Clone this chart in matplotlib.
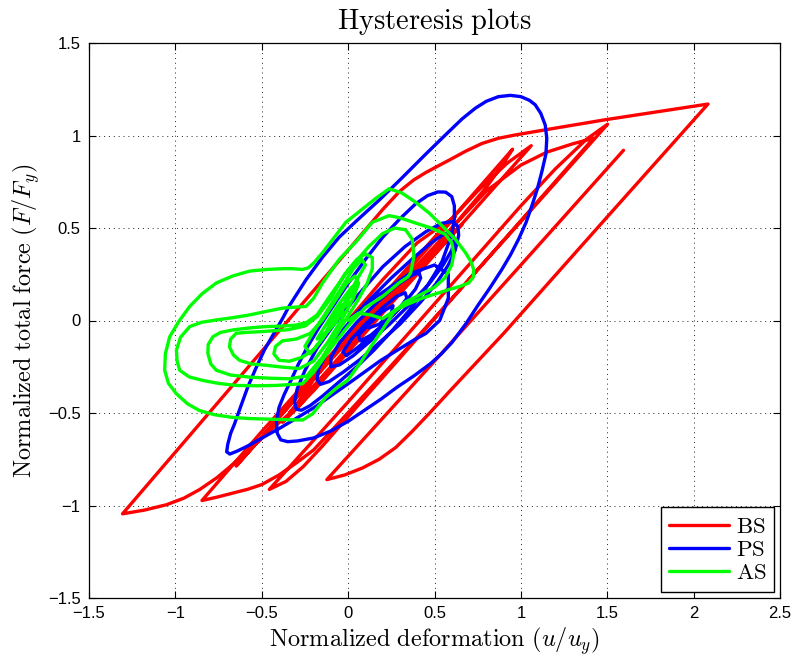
import matplotlib
matplotlib.use("Agg")
import matplotlib.pyplot as plt

plt.rcParams['mathtext.fontset'] = 'cm'
plt.rcParams['font.family'] = ['Liberation Sans', 'DejaVu Sans']

# ---------------- data, (u/uy, F/Fy) points ----------------
bs_xy = [
    (0.0, 0.0), (0.2, 0.22), (0.4, 0.42), (0.55, 0.52), (0.62, 0.56),
    (0.45, 0.38), (0.2, 0.12), (-0.05, -0.14), (-0.2, -0.32), (-0.28, -0.43), (-0.34, -0.5),
    (-0.1, -0.25), (0.2, 0.07), (0.45, 0.33), (0.6, 0.47), (0.66, 0.52),
    (0.4, 0.26), (0.1, -0.05), (-0.15, -0.32), (-0.28, -0.46), (-0.38, -0.55),
    (-0.1, -0.26), (0.3, 0.15), (0.6, 0.5), (0.8, 0.72), (0.9, 0.85), (0.952, 0.926),
    (0.6, 0.55), (0.2, 0.12), (-0.2, -0.31), (-0.5, -0.63), (-0.648, -0.787),
    (-0.3, -0.42), (0.3, 0.2), (0.8, 0.7), (1.0, 0.84), (1.15, 0.91), (1.3, 0.955), (1.42, 0.985),
    (1.0, 0.54), (0.5, 0.01), (0.0, -0.52), (-0.15, -0.68), (-0.26, -0.79), (-0.36, -0.87), (-0.456, -0.913),
    (0.0, -0.44), (0.5, 0.09), (1.0, 0.62), (1.2, 0.82), (1.38, 0.98), (1.502, 1.061),
    (1.0, 0.535), (0.4, -0.09), (-0.1, -0.6), (-0.2, -0.7), (-0.3, -0.77), (-0.4, -0.835), (-0.5, -0.887),
    (-0.58, -0.912), (-0.668, -0.933), (-0.76, -0.955), (-0.846, -0.973),
    (-0.5, -0.6), (0.0, -0.08), (0.5, 0.45), (0.75, 0.7), (0.92, 0.85), (1.06, 0.945),
    (0.6, 0.46), (0.1, -0.065), (-0.2, -0.38), (-0.28, -0.455), (-0.36, -0.52), (-0.44, -0.585),
    (-0.514, -0.65), (-0.59, -0.715), (-0.668, -0.778), (-0.76, -0.85), (-0.86, -0.914), (-0.95, -0.96),
    (-1.052, -0.996), (-1.18, -1.025), (-1.306, -1.045),
    (-0.744, -0.433), (0.0, 0.38), (0.2, 0.6), (0.3, 0.70), (0.38, 0.76), (0.45, 0.80), (0.52, 0.835),
    (0.583, 0.866), (0.68, 0.915), (0.775, 0.957), (0.87, 0.985), (0.968, 1.003), (1.2, 1.04),
    (1.487, 1.085), (2.083, 1.17),
    (1.5, 0.56), (0.9, -0.07), (0.75, -0.22), (0.6, -0.37), (0.467, -0.505), (0.37, -0.6), (0.275, -0.687),
    (0.18, -0.75), (0.083, -0.797), (-0.02, -0.835), (-0.123, -0.86),
    (0.5, -0.22), (1.0, 0.3), (1.594, 0.92)]

ps_xy = [
    (0.0, 0.0), (0.15, 0.12), (0.35, 0.25), (0.5, 0.3), (0.58, 0.25), (0.58, 0.12), (0.53, 0.0), (0.45, -0.07),
    (0.38, -0.106), (0.19, -0.215), (0.0, -0.342), (-0.196, -0.47), (-0.388, -0.578), (-0.581, -0.678),
    (-0.64, -0.705), (-0.685, -0.722), (-0.703, -0.71),
    (-0.697, -0.67), (-0.68, -0.61), (-0.658, -0.56), (-0.62, -0.46), (-0.581, -0.36), (-0.535, -0.26),
    (-0.485, -0.16), (-0.43, -0.07), (-0.38, 0.01), (-0.34, 0.08), (-0.244, 0.22), (-0.15, 0.34),
    (-0.052, 0.45), (0.05, 0.54), (0.179, 0.65), (0.3, 0.76), (0.45, 0.9), (0.583, 1.021), (0.66, 1.09),
    (0.737, 1.148), (0.8, 1.185), (0.87, 1.21), (0.939, 1.217),
    (1.0, 1.21), (1.05, 1.19), (1.083, 1.166), (1.115, 1.12), (1.141, 1.057), (1.15, 0.985), (1.145, 0.9),
    (1.121, 0.803), (1.095, 0.71), (1.064, 0.621), (1.03, 0.53), (0.987, 0.44), (0.94, 0.355), (0.89, 0.276),
    (0.82, 0.175), (0.75, 0.08), (0.68, -0.02), (0.6, -0.12), (0.54, -0.18), (0.477, -0.233), (0.38, -0.3),
    (0.284, -0.36), (0.19, -0.425), (0.092, -0.487), (0.0, -0.545), (-0.1, -0.597), (-0.2, -0.635),
    (-0.292, -0.651), (-0.35, -0.655), (-0.39, -0.645),
    (-0.41, -0.61), (-0.415, -0.55), (-0.40, -0.47), (-0.37, -0.4), (-0.331, -0.324), (-0.29, -0.24),
    (-0.235, -0.142), (-0.17, -0.04), (-0.1, 0.06), (0.0, 0.2), (0.1, 0.33), (0.2, 0.45), (0.3, 0.55),
    (0.39, 0.63), (0.46, 0.675), (0.52, 0.695), (0.564, 0.694),
    (0.6, 0.67), (0.615, 0.62), (0.615, 0.55), (0.6, 0.47), (0.575, 0.4), (0.544, 0.32), (0.5, 0.25),
    (0.44, 0.16), (0.35, 0.05), (0.25, -0.06), (0.15, -0.16), (0.05, -0.25), (-0.05, -0.33), (-0.15, -0.41),
    (-0.22, -0.46), (-0.27, -0.485), (-0.3, -0.48),
    (-0.31, -0.44), (-0.295, -0.37), (-0.25, -0.27), (-0.18, -0.15), (-0.08, -0.02), (0.05, 0.13),
    (0.2, 0.29), (0.33, 0.4), (0.45, 0.48), (0.54, 0.525), (0.6, 0.535), (0.635, 0.51),
    (0.64, 0.46), (0.62, 0.38), (0.58, 0.3), (0.51, 0.2), (0.42, 0.1), (0.3, -0.02), (0.18, -0.12),
    (0.07, -0.21), (-0.03, -0.28), (-0.11, -0.33), (-0.16, -0.345), (-0.18, -0.32),
    (-0.17, -0.26), (-0.12, -0.17), (-0.03, -0.05), (0.1, 0.09), (0.25, 0.23), (0.38, 0.34), (0.48, 0.42),
    (0.56, 0.47), (0.6, 0.475), (0.615, 0.44),
    (0.6, 0.38), (0.55, 0.3), (0.47, 0.2), (0.36, 0.09), (0.24, -0.02), (0.13, -0.11), (0.03, -0.19),
    (-0.05, -0.24), (-0.1, -0.25),
    (-0.1, -0.2), (-0.05, -0.12), (0.05, -0.01), (0.17, 0.1), (0.28, 0.19), (0.36, 0.24), (0.41, 0.26),
    (0.42, 0.23),
    (0.39, 0.17), (0.33, 0.1), (0.24, 0.01), (0.14, -0.08), (0.05, -0.15), (-0.01, -0.19), (-0.03, -0.17),
    (0.02, -0.1), (0.1, -0.02), (0.2, 0.07), (0.28, 0.13), (0.33, 0.15), (0.34, 0.12), (0.3, 0.07),
    (0.22, -0.01), (0.13, -0.08), (0.07, -0.11), (0.06, -0.08), (0.12, -0.02), (0.2, 0.05), (0.26, 0.08),
    (0.25, 0.04), (0.18, -0.02), (0.12, -0.04)]

as_xy = [
    (0.0, 0.0), (0.06, 0.04), (0.13, 0.03), (0.2, 0.01), (0.275, 0.058), (0.35, 0.09), (0.429, 0.121),
    (0.51, 0.145), (0.583, 0.167), (0.65, 0.185), (0.698, 0.203), (0.725, 0.235), (0.727, 0.276),
    (0.71, 0.32), (0.679, 0.367), (0.62, 0.44), (0.544, 0.512), (0.47, 0.58), (0.39, 0.64), (0.31, 0.69),
    (0.237, 0.712),
    (0.16, 0.66), (0.08, 0.6), (-0.013, 0.531), (-0.08, 0.45), (-0.148, 0.367), (-0.2, 0.31),
    (-0.23, 0.285), (-0.264, 0.276),
    (-0.32, 0.28), (-0.379, 0.28), (-0.47, 0.276), (-0.571, 0.267), (-0.67, 0.24), (-0.763, 0.203),
    (-0.845, 0.145), (-0.917, 0.076), (-0.98, -0.005), (-1.033, -0.088), (-1.058, -0.18), (-1.062, -0.269),
    (-1.04, -0.34), (-0.994, -0.396), (-0.93, -0.45), (-0.86, -0.487), (-0.77, -0.51), (-0.668, -0.524),
    (-0.57, -0.53), (-0.475, -0.533), (-0.37, -0.536), (-0.264, -0.538),
    (-0.206, -0.505), (-0.129, -0.415), (-0.06, -0.36), (-0.004, -0.324), (0.07, -0.23), (0.131, -0.142),
    (0.198, -0.05), (0.26, 0.04), (0.33, 0.1), (0.42, 0.14), (0.5, 0.18), (0.56, 0.23), (0.6, 0.3),
    (0.612, 0.36), (0.6, 0.42), (0.561, 0.467), (0.48, 0.5), (0.38, 0.53), (0.3, 0.555), (0.237, 0.567),
    (0.14, 0.531), (0.05, 0.43), (-0.052, 0.33), (-0.15, 0.2), (-0.2, 0.12), (-0.244, 0.076),
    (-0.31, 0.072), (-0.379, 0.067), (-0.47, 0.05), (-0.571, 0.03), (-0.67, 0.015), (-0.763, 0.003),
    (-0.85, -0.01), (-0.917, -0.033), (-0.97, -0.09), (-0.994, -0.16), (-0.99, -0.22), (-0.975, -0.269),
    (-0.92, -0.305), (-0.841, -0.324), (-0.75, -0.34), (-0.648, -0.351), (-0.53, -0.353), (-0.417, -0.351),
    (-0.264, -0.342),
    (-0.2, -0.28), (-0.1, -0.15), (0.0, -0.03), (0.1, 0.07), (0.2, 0.13), (0.294, 0.203), (0.345, 0.235),
    (0.362, 0.258), (0.381, 0.348), (0.371, 0.439), (0.333, 0.49), (0.27, 0.5), (0.2, 0.47),
    (0.12, 0.4), (0.0, 0.27), (-0.1, 0.14), (-0.18, 0.03), (-0.24, -0.01), (-0.3, -0.025), (-0.38, -0.03),
    (-0.475, -0.033), (-0.57, -0.04), (-0.668, -0.051), (-0.74, -0.065), (-0.783, -0.088), (-0.81, -0.13),
    (-0.812, -0.178), (-0.795, -0.235), (-0.763, -0.269), (-0.68, -0.295), (-0.571, -0.306), (-0.45, -0.312),
    (-0.34, -0.315), (-0.24, -0.3),
    (-0.15, -0.2), (-0.05, -0.05), (0.05, 0.1), (0.11, 0.2), (0.14, 0.28), (0.14, 0.34), (0.1, 0.36),
    (0.05, 0.33),
    (-0.02, 0.25), (-0.1, 0.12), (-0.18, 0.02), (-0.25, -0.03), (-0.35, -0.05), (-0.5, -0.06), (-0.6, -0.065),
    (-0.648, -0.069), (-0.68, -0.1), (-0.687, -0.142), (-0.665, -0.185), (-0.629, -0.215), (-0.56, -0.235),
    (-0.475, -0.242), (-0.38, -0.252), (-0.283, -0.26), (-0.2, -0.22),
    (-0.12, -0.12), (-0.04, 0.0), (0.03, 0.12), (0.06, 0.2), (0.04, 0.24), (-0.01, 0.2), (-0.08, 0.1),
    (-0.15, 0.0), (-0.22, -0.07), (-0.3, -0.1), (-0.38, -0.11), (-0.42, -0.14), (-0.43, -0.18), (-0.4, -0.215),
    (-0.34, -0.22), (-0.27, -0.2), (-0.2, -0.16),
    (-0.12, -0.06), (-0.04, 0.06), (0.05, 0.22), (0.1, 0.3), (0.08, 0.33), (0.03, 0.28), (-0.05, 0.16),
    (-0.13, 0.04), (-0.2, -0.06), (-0.25, -0.14), (-0.22, -0.18), (-0.15, -0.1), (-0.07, 0.02), (0.02, 0.14),
    (0.06, 0.2), (0.02, 0.18), (-0.06, 0.08), (-0.14, -0.04), (-0.18, -0.1), (-0.12, -0.06), (-0.05, 0.04),
    (0.0, 0.1), (-0.04, 0.08), (-0.1, -0.01), (-0.13, -0.07), (-0.08, -0.02), (-0.03, 0.05)]

series_labels = ['BS', 'PS', 'AS']
series_colors = ['#ff0000', '#0000ff', '#00ff00']

xticks = [-1.5, -1, -0.5, 0, 0.5, 1, 1.5, 2, 2.5]
yticks = [-1.5, -1, -0.5, 0, 0.5, 1, 1.5]


def fmt(t):
    return ('%g' % t).replace('-', '\u2212')


# ---------------- figure ----------------
fig = plt.figure(figsize=(7.96, 6.56), dpi=100)
ax = fig.add_axes([89/796, 1-598/656, (780-89)/796, (598-43)/656])

for pts, lab, col in zip([bs_xy, ps_xy, as_xy], series_labels, series_colors):
    xs = [p[0] for p in pts]
    ys = [p[1] for p in pts]
    ax.plot(xs, ys, color=col, lw=2.4, label=r'$\mathrm{%s}$' % lab,
            solid_joinstyle='round', solid_capstyle='round')

ax.set_xlim(-1.5, 2.5)
ax.set_ylim(-1.5, 1.5)
ax.set_xticks(xticks)
ax.set_yticks(yticks)
ax.set_xticklabels([fmt(t) for t in xticks])
ax.set_yticklabels([fmt(t) for t in yticks])
ax.tick_params(direction='in', length=5, width=0.8, top=True, right=True, labelsize=12, pad=6)
ax.grid(True, color='#222222', linestyle=(0, (1, 4)), linewidth=0.7)
for s in ax.spines.values():
    s.set_linewidth(0.9)

ax.set_title(r'$\mathrm{Hysteresis\ plots}$', fontsize=20.5, pad=10)
ax.set_xlabel(r'$\mathrm{Normalized\ deformation}\ (u/u_y)$', fontsize=17.5, labelpad=3)
ax.set_ylabel(r'$\mathrm{Normalized\ total\ force}\ (F/F_y)$', fontsize=17.5, labelpad=4)

leg = ax.legend(loc='lower right', fontsize=16.5, fancybox=False, framealpha=1, edgecolor='black',
                handlelength=2.6, handletextpad=0.3, borderpad=0.35, labelspacing=0.0,
                borderaxespad=0.25)
leg.get_frame().set_linewidth(1.0)

fig.savefig('out.png', dpi=100)
